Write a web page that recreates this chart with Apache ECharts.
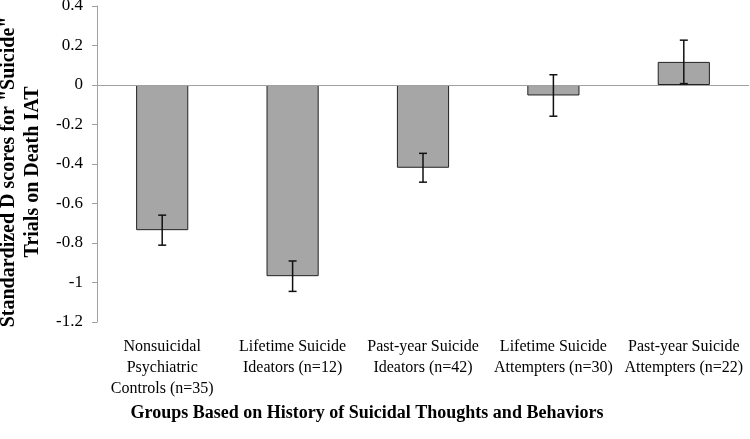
<!DOCTYPE html>
<html lang="en">
<head>
    <meta charset="UTF-8">
    <title>Death IAT D scores</title>
    <style>
        html, body { margin: 0; padding: 0; background: #fff; }
        #main { width: 750px; height: 439px; }
    </style>
</head>
<body>
    <div id="main"></div>
</body>
<script src="https://cdn.jsdelivr.net/npm/echarts@6.0.0/dist/echarts.min.js"></script>
<script>
    // groups on the x axis
    const categories = [
        'Nonsuicidal\nPsychiatric\nControls (n=35)',
        'Lifetime Suicide\nIdeators (n=12)',
        'Past-year Suicide\nIdeators (n=42)',
        'Lifetime Suicide\nAttempters (n=30)',
        'Past-year Suicide\nAttempters (n=22)'
    ];
    // mean standardized D scores
    const means = [-0.735, -0.968, -0.419, -0.053, 0.117];
    // half length of the error bars
    const errors = [0.076, 0.077, 0.073, 0.105, 0.11];
    // y axis ticks
    const yMin = -1.2, yMax = 0.4, yStep = 0.2;

    const serif = '"Liberation Serif", "Times New Roman", serif';

    function load() {
        const chart = echarts.init(document.getElementById('main'));
        const errData = means.map((m, i) => [i, m - errors[i], m + errors[i]]);

        chart.setOption({
            animation: false,
            grid: {
                left: 97,
                right: 1,
                top: 6,
                bottom: 117,
                containLabel: false,
                outerBoundsMode: 'none'
            },
            graphic: [{
                type: 'text',
                x: 367,
                y: 413,
                style: {
                    text: 'Groups Based on History of Suicidal Thoughts and Behaviors',
                    font: 'bold 18px ' + serif,
                    fill: '#000',
                    textAlign: 'center',
                    textVerticalAlign: 'middle'
                }
            }],
            xAxis: {
                type: 'category',
                data: categories,
                axisLine: { show: false, onZero: false },
                axisTick: { show: false },
                axisLabel: {
                    interval: 0,
                    margin: 14,
                    color: '#000',
                    fontFamily: serif,
                    fontSize: 16,
                    lineHeight: 21
                },
                splitLine: { show: false }
            },
            yAxis: {
                type: 'value',
                min: yMin,
                max: yMax,
                interval: yStep,
                name: 'Standardized D scores for "Suicide"\nTrials on Death IAT',
                nameLocation: 'middle',
                nameGap: 48,
                nameTextStyle: {
                    color: '#000',
                    fontFamily: serif,
                    fontSize: 20,
                    fontWeight: 'bold',
                    lineHeight: 24,
                    padding: [0, 16, 0, 0]
                },
                axisLine: { show: true, lineStyle: { color: '#a0a0a0', width: 1 } },
                axisTick: { show: true, length: 5, lineStyle: { color: '#a0a0a0' } },
                axisLabel: {
                    margin: 14,
                    color: '#000',
                    fontFamily: serif,
                    fontSize: 17,
                    formatter: v => String(parseFloat(v.toFixed(1)))
                },
                splitLine: { show: false }
            },
            series: [
                {
                    type: 'bar',
                    data: means,
                    barWidth: '40%',
                    itemStyle: {
                        color: '#a6a6a6',
                        borderColor: '#222',
                        borderWidth: 1
                    },
                    markLine: {
                        silent: true,
                        symbol: 'none',
                        label: { show: false },
                        lineStyle: { color: '#a0a0a0', type: 'solid', width: 1 },
                        data: [{ yAxis: 0 }]
                    }
                },
                {
                    type: 'custom',
                    data: errData,
                    encode: { x: 0, y: [1, 2] },
                    z: 5,
                    renderItem: function (params, api) {
                        const lo = api.coord([api.value(0), api.value(1)]);
                        const hi = api.coord([api.value(0), api.value(2)]);
                        const cap = 4;
                        const style = { stroke: '#111', lineWidth: 1.5 };
                        return {
                            type: 'group',
                            children: [
                                { type: 'line', shape: { x1: lo[0], y1: lo[1], x2: hi[0], y2: hi[1] }, style: style },
                                { type: 'line', shape: { x1: lo[0] - cap, y1: lo[1], x2: lo[0] + cap, y2: lo[1] }, style: style },
                                { type: 'line', shape: { x1: hi[0] - cap, y1: hi[1], x2: hi[0] + cap, y2: hi[1] }, style: style }
                            ]
                        };
                    }
                }
            ]
        });
    }

    window.onload = function () {
        load();
    }
</script>
</html>
